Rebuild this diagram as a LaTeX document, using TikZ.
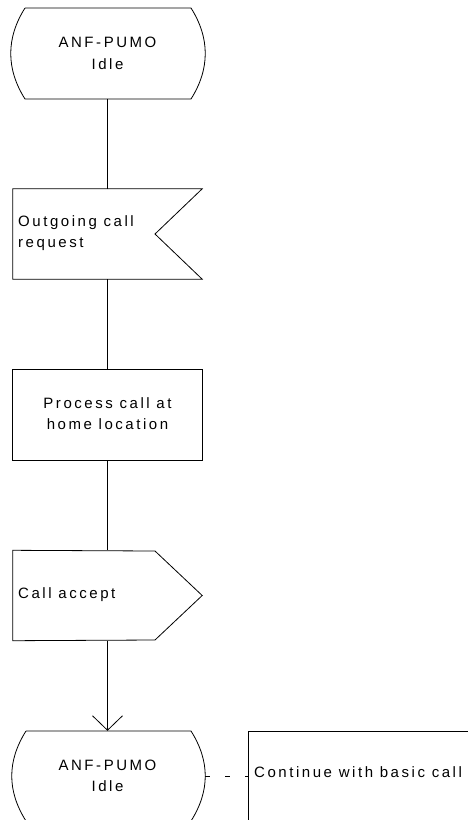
\documentclass[tikz,border=0pt]{standalone}
\usepackage{fontspec}
\setmainfont{Liberation Sans}[LetterSpace=17]
\usetikzlibrary{arrows.meta}
\tikzset{
  shapeline/.style={draw=black, line width=0.8pt},
  conn/.style={draw=black, line width=0.8pt},
  lbl/.style={inner sep=0pt, font=\fontsize{15}{21.5}\selectfont},
  frame/.style={draw=none, inner sep=0pt, minimum width=189pt, minimum height=90pt},
}
\begin{document}
\begin{tikzpicture}[x=1pt,y=-1pt]
\useasboundingbox (0,0) rectangle (468,820);
% frames (invisible nodes used as anchors)
\node[frame] (s1) at (107.5,53.5) {};
\node[frame] (in1) at (107.5,234) {};
\node[frame] (t1) at (107.5,415) {};
\node[frame] (out1) at (107.5,595.5) {};
\node[frame] (s2) at (107.5,776) {};
\node[draw=none, inner sep=0pt, minimum width=219pt, minimum height=90pt] (c1) at (358.5,777) {};
% state 1
\draw[shapeline] (25,8) -- (191,8) .. controls (210,38) and (210,69) .. (191,99) -- (25,99) .. controls (6,69) and (6,38) .. (25,8);
\node[lbl, align=center] (s1t) at (s1.center) {ANF-PUMO\\Idle};
% input
\draw[shapeline] (in1.north west) -- (in1.north east) -- (155,234) -- (in1.south east) -- (in1.south west) -- cycle;
\node[lbl, align=left, anchor=west] (in1t) at (18,233) {Outgoing call\\request};
% task
\draw[shapeline] (t1.north west) rectangle (t1.south east);
\node[lbl, align=center] (t1t) at (107.5,413.5) {Process call at\\home location};
% output
\draw[shapeline] (out1.north west) -- (155,551) -- (out1.east) -- (155,640) -- (out1.south west) -- cycle;
\node[lbl, anchor=west] (out1t) at (18,595) {Call accept};
% state 2
\draw[shapeline] (26,731) -- (191,731) .. controls (210,761) and (210,791) .. (191,821) -- (26,821) .. controls (7,791) and (7,761) .. (26,731);
\node[lbl, align=center] (s2t) at (s2.center) {ANF-PUMO\\Idle};
% comment bracket
\draw[shapeline] (c1.north east) -- (c1.north west) -- (c1.south west);
\node[lbl, anchor=west] (c1t) at (254,772) {Continue with basic call};
% connectors
\draw[conn] (s1.south) -- (in1.north);
\draw[conn] (in1.south) -- (t1.north);
\draw[conn] (t1.south) -- (out1.north);
\draw[conn, -{Straight Barb[length=14.5pt, width=30pt, line width=0.8pt]}] (out1.south) -- (s2.north);
\coordinate (dashA) at (205,776);
\draw[conn, dash pattern=on 5pt off 15pt] (dashA) -- (c1.west |- dashA);
\end{tikzpicture}
\end{document}
